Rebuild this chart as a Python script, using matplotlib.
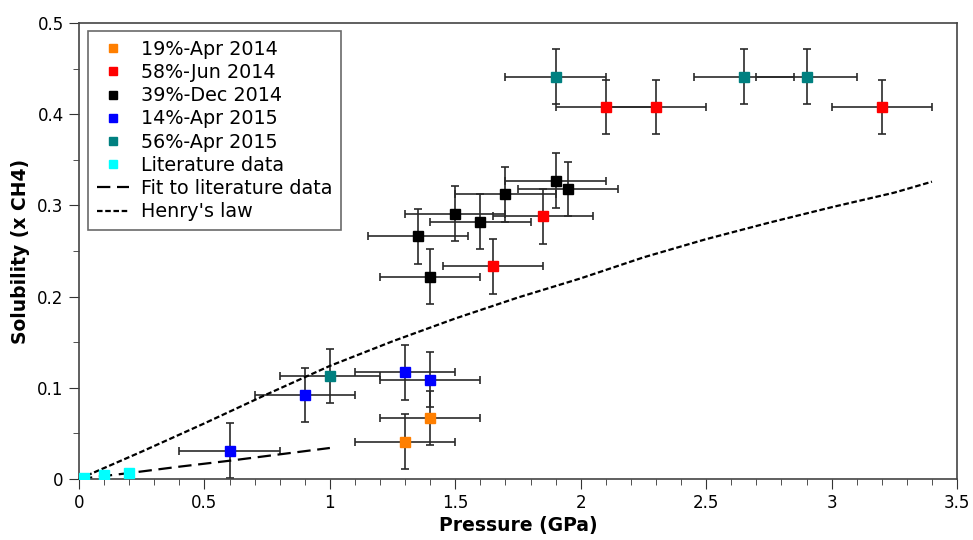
import numpy as np
import matplotlib
matplotlib.use("Agg")
import matplotlib.pyplot as plt
from matplotlib.ticker import MultipleLocator, FormatStrFormatter

# data (pressure GPa, solubility x CH4)
apr14_p = [1.3, 1.4]
apr14_x = [0.041, 0.067]
jun14_p = [1.65, 1.85, 2.1, 2.3, 3.2]
jun14_x = [0.233, 0.288, 0.408, 0.408, 0.408]
dec14_p = [1.4, 1.35, 1.5, 1.6, 1.7, 1.9, 1.95]
dec14_x = [0.222, 0.266, 0.291, 0.282, 0.312, 0.327, 0.318]
apr15a_p = [0.6, 0.9, 1.3, 1.4]
apr15a_x = [0.031, 0.092, 0.117, 0.109]
apr15b_p = [1.0, 1.9, 2.65, 2.9]
apr15b_x = [0.113, 0.441, 0.441, 0.441]
lit_p = [0.02, 0.1, 0.2]
lit_x = [0.001, 0.004, 0.007]

fit_p = [0.0, 0.2, 0.4, 0.6, 0.8, 1.0]
fit_x = [0.0, 0.0065, 0.0135, 0.020, 0.027, 0.034]
henry_p = [0.0, 0.25, 0.5, 0.75, 1.0, 1.25, 1.5, 1.75, 2.0, 2.25, 2.5, 2.75, 3.0, 3.25, 3.4]
henry_x = [0.0, 0.030, 0.061, 0.093, 0.124, 0.151, 0.176, 0.199, 0.220, 0.243, 0.263, 0.281, 0.298, 0.314, 0.326]

p_err = 0.2
x_err = 0.03

series = [
    ("19%-Apr 2014", apr14_p, apr14_x, "#ff7f00"),
    ("58%-Jun 2014", jun14_p, jun14_x, "#ff0000"),
    ("39%-Dec 2014", dec14_p, dec14_x, "#000000"),
    ("14%-Apr 2015", apr15a_p, apr15a_x, "#0000ff"),
    ("56%-Apr 2015", apr15b_p, apr15b_x, "#008080"),
]

fig = plt.figure(figsize=(9.73, 5.4), dpi=100)
ax = fig.add_axes([0.0812, 0.113, 0.9024, 0.8444])

handles = []
for name, p, x, c in series:
    ax.errorbar(p, x, xerr=p_err, yerr=x_err, fmt="none", ecolor="#2a2a2a",
                elinewidth=1.2, capsize=3, capthick=1.2, zorder=2)
    h, = ax.plot(p, x, "s", color=c, markersize=7, linestyle="none", label=name, zorder=3)
    handles.append(h)

h, = ax.plot(lit_p, lit_x, "s", color="#00ffff", markersize=7, linestyle="none",
             label="Literature data", zorder=3)
handles.append(h)
h, = ax.plot(fit_p, fit_x, color="black", linestyle=(0, (6, 3)), linewidth=1.6,
             label="Fit to literature data", zorder=2)
handles.append(h)
h, = ax.plot(henry_p, henry_x, color="black", linestyle=(0, (2.5, 1.2)), linewidth=1.6,
             label="Henry's law", zorder=2)
handles.append(h)

ax.set_xlim(0, 3.5)
ax.set_ylim(0, 0.5)
ax.xaxis.set_major_locator(MultipleLocator(0.5))
ax.xaxis.set_minor_locator(MultipleLocator(0.1))
ax.yaxis.set_major_locator(MultipleLocator(0.1))
ax.yaxis.set_minor_locator(MultipleLocator(0.05))
ax.xaxis.set_major_formatter(FormatStrFormatter("%g"))
ax.yaxis.set_major_formatter(FormatStrFormatter("%g"))
ax.tick_params(which="both", direction="out", top=False, right=False, color="#333333")
ax.tick_params(which="major", length=7.5, labelsize=12)
ax.tick_params(which="minor", length=4.5)
for s in ax.spines.values():
    s.set_color("#444444")
    s.set_linewidth(1.2)

ax.set_xlabel("Pressure (GPa)", fontsize=13.5, fontweight="bold", labelpad=3)
ax.set_ylabel("Solubility (x CH4)", fontsize=13.5, fontweight="bold", labelpad=5)

leg = ax.legend(handles=handles, loc="upper left", fontsize=13.8, frameon=True,
                fancybox=False, edgecolor="#444444", handlelength=1.7,
                borderpad=0.45, labelspacing=0.22, handletextpad=0.6,
                borderaxespad=0, markerscale=0.9,
                bbox_to_anchor=(0.0103, 0.982))
leg.get_frame().set_linewidth(1.2)

fig.savefig("out.png", dpi=100)
